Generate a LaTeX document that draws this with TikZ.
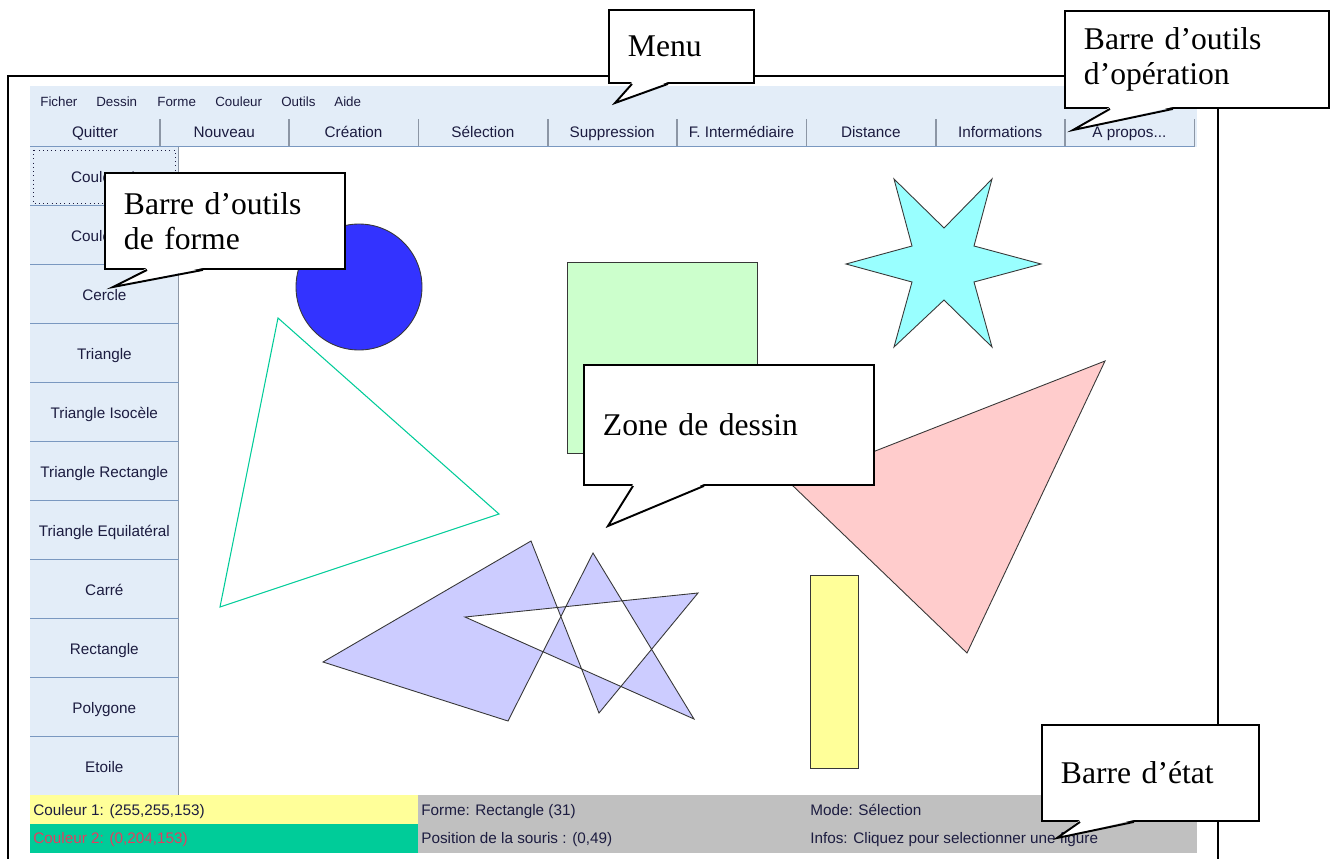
\documentclass[tikz,border=0pt]{standalone}
\usepackage{fontspec}
\newfontfamily\uifont{Liberation Sans}
\newfontfamily\notefont{Liberation Serif}
\usetikzlibrary{calc}

\definecolor{uiblue}{RGB}{227,237,248}
\definecolor{uiedge}{RGB}{122,152,192}
\definecolor{uisep}{RGB}{140,150,165}
\definecolor{uitext}{RGB}{28,28,64}
\definecolor{statgray}{RGB}{192,192,192}
\definecolor{colone}{RGB}{255,255,153}
\definecolor{coltwo}{RGB}{0,204,153}
\definecolor{coltwotext}{RGB}{226,62,96}
\definecolor{discblue}{RGB}{51,51,255}
\definecolor{sqgreen}{RGB}{204,255,204}
\definecolor{starcyan}{RGB}{153,255,255}
\definecolor{tripink}{RGB}{255,204,204}
\definecolor{polylav}{RGB}{204,204,255}
\definecolor{shapeline}{RGB}{55,55,55}

\newcommand{\aproposlbl}{A propos.{}.{}.}

\tikzset{
  uitxt/.style={font=\uifont\fontsize{8.7}{10}\selectfont, text=uitext, inner sep=0pt,
    text height=7.6pt, text depth=1.6pt},
  menuitem/.style={uitxt, font=\uifont\fontsize{7.6}{9}\selectfont, anchor=west},
  topbtn/.style={uitxt, fill=uiblue, anchor=north west, minimum width=2.586cm, minimum height=0.58cm},
  sidebtn/.style={uitxt, fill=uiblue, anchor=north west, minimum width=2.96cm, minimum height=1.18cm},
  btnedge/.style={uiedge, line width=0.9pt},
  btnsep/.style={uisep, line width=0.9pt},
  stat/.style={uitxt, anchor=west},
  outline/.style={draw=shapeline, line width=0.5pt},
  callbox/.style={draw=black, line width=1.1pt, fill=white, anchor=north west, align=left,
    inner xsep=0.38cm, inner ysep=0pt, font=\notefont\fontsize{18}{20}\selectfont},
  pointer/.style={black, line width=1.1pt, line join=miter}
}

\begin{document}
\begin{tikzpicture}[x=0.02cm, y=-0.02cm]
    \useasboundingbox[fill=white] (0,0) rectangle (1336,859);

    % window frame
    \draw[line width=1.1pt] (8,859) -- (8,76) -- (1218,76) -- (1218,859);

    % menu bar
    \fill[uiblue] (30,86) rectangle (1197,147);
    \foreach \t/\x in {Ficher/40,Dessin/96,Forme/157,Couleur/215,Outils/281,Aide/334}{
            \node[menuitem] (menu\x) at (\x,101) {\t};
    }

    % operation buttons
    \foreach \t [count=\i from 0] in {Quitter,Nouveau,Création,Sélection,Suppression,F. Intermédiaire,Distance,Informations,\aproposlbl}{
            \node[topbtn] (op\i) at ({30+129.3*\i},117) {\t};
    }
    \foreach \i in {0,...,8}{
            \draw[btnsep] ($(op\i.north east)+(0,2)$) -- (op\i.south east);
            \draw[btnedge] (op\i.south east) -- (op\i.south west);
    }

    % shape buttons
    \foreach \t [count=\i from 0] in {Couleur 1,Couleur 2,Cercle,Triangle,Triangle Isocèle,Triangle Rectangle,Triangle Equilatéral,Carré,Rectangle,Polygone,Etoile}{
            \node[sidebtn] (form\i) at (30,{147+59*\i}) {\t};
    }
    \foreach \i in {0,...,10}{
            \draw[btnsep] (form\i.north east) -- (form\i.south east);
            \draw[btnedge] ($(form\i.south west)+(0,-1)$) -- ($(form\i.south east)+(0,-1)$);
    }
    \draw[dotted, uitext] (33,150) rectangle (175,203);

    % drawing zone
    \draw[outline, fill=discblue] (359,287) circle [radius=63];
    \draw[outline, fill=sqgreen] (567,262) rectangle (757,453);
    \draw[outline, fill=starcyan] (894,179) -- (944,228) -- (992,179) -- (974,246) -- (1041,264) -- (974,282)
        -- (992,347) -- (944,300) -- (894,347) -- (912,282) -- (846,264) -- (912,246) -- cycle;
    \draw[outline, fill=tripink] (1105,361) -- (967,653) -- (791,484) -- cycle;
    \draw[coltwo, line width=0.6pt] (278,318) -- (499,514) -- (220,607) -- cycle;
    \draw[outline, fill=polylav, even odd rule] (531,541) -- (599,713) -- (698,593) -- (465,617)
        -- (694,719) -- (593,553) -- (508,721) -- (323,662) -- cycle;
    \draw[outline, fill=colone] (810,575) rectangle (858,768);

    % status bar
    \fill[colone] (30,795) rectangle (418,824);
    \fill[coltwo] (30,824) rectangle (418,853);
    \fill[statgray] (418,795) rectangle (1197,853);
    \node[stat] (col1) at (33,810) {Couleur 1: (255,255,153)};
    \node[stat, text=coltwotext] (col2) at (33,838) {Couleur 2: (0,204,153)};
    \node[stat] (forme) at (421,810) {Forme: Rectangle (31)};
    \node[stat] (souris) at (421,838) {Position de la souris : (0,49)};
    \node[stat] (mode) at (810,810) {Mode: Sélection};
    \node[stat] (infos) at (810,838) {Infos: Cliquez pour selectionner une figure};

    % callouts
    \node[callbox, text width=2.14cm, minimum height=1.46cm] (menu) at (608,9) {Menu};
    \node[callbox, text width=4.52cm, minimum height=1.94cm] (opbar) at (1064,10) {Barre d’outils\\d’opération};
    \node[callbox, text width=4.04cm, minimum height=1.92cm] (shapebar) at (104,172) {Barre d’outils\\de forme};
    \node[callbox, text width=5.04cm, minimum height=2.40cm] (zone) at (583,364) {Zone de dessin};
    \node[callbox, text width=3.58cm, minimum height=1.92cm] (statebar) at (1041,724) {Barre d’état};

    \coordinate (menu-tip) at (615,103);
    \coordinate (opbar-tip) at (1073,130);
    \coordinate (shapebar-tip) at (113,287);
    \coordinate (zone-tip) at (608,526);
    \coordinate (statebar-tip) at (1057,838);

    \foreach \n/\a/\b in {menu/24/60,opbar/46/109,shapebar/43/99,zone/50/121,statebar/39/93}{
            \fill[white] ($(\n.south west)+(\a,-2)$) -- (\n-tip) -- ($(\n.south west)+(\b,-2)$) -- cycle;
            \draw[pointer] ($(\n.south west)+(\a,0)$) -- (\n-tip) -- ($(\n.south west)+(\b,0)$);
    }

\end{tikzpicture}
\end{document}
